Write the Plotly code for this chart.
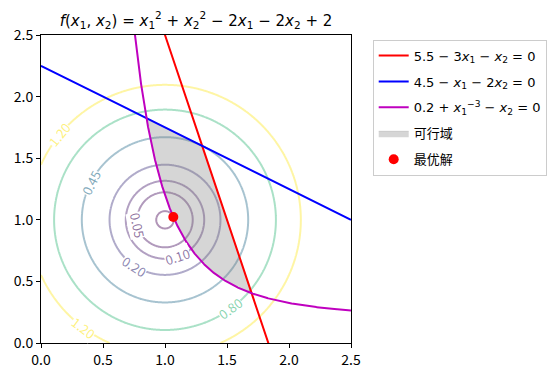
import numpy as np
import plotly.graph_objects as go
from plotly.colors import sample_colorscale

# ---- data ----
levels = [0.005, 0.05, 0.10, 0.20, 0.45, 0.80, 1.20]
label_levels = [0.05, 0.10, 0.20, 0.45, 0.80, 1.20, 1.20]
label_angles = [192, -72, 237, 153, -54, 233, 141]  # degrees around the centre
ticks = [0.0, 0.5, 1.0, 1.5, 2.0, 2.5]
c_red = [5.5, 3.0, 1.0]     # 5.5 - 3 x1 - x2 = 0
c_blue = [4.5, 1.0, 2.0]    # 4.5 - x1 - 2 x2 = 0
c_mag = [0.2, -3.0]         # 0.2 + x1^-3 - x2 = 0
opt_x = [1.067]
opt_y = [1.023]
centre = [1.0, 1.0]

def f(x1, x2):
    return x1**2 + x2**2 - 2*x1 - 2*x2 + 2

def red_y(x):
    return (c_red[0] - c_red[1]*x) / c_red[2]

def blue_y(x):
    return (c_blue[0] - c_blue[1]*x) / c_blue[2]

def mag_y(x):
    return c_mag[0] + x**c_mag[1]

FONT = "Noto Sans CJK SC"
MFONT = "DejaVu Sans, Noto Sans CJK SC"
fig = go.Figure()

# contours
g = np.linspace(0, 2.5, 401)
X, Y = np.meshgrid(g, g)
Z = f(X, Y)
lo, hi = min(levels), max(levels)
cols = sample_colorscale('Viridis', [(L - lo) / (hi - lo) for L in levels])
alpha = 0.42

def rgba(c, a):
    r, gg, b = [int(float(v)) for v in c[c.index('(')+1:c.index(')')].split(',')]
    return f'rgba({r},{gg},{b},{a})'

col_of = {}
for L, c in zip(levels, cols):
    col_of[L] = c
    fig.add_trace(go.Contour(x=g, y=g, z=Z, autocontour=False,
                             contours=dict(start=L, end=L, size=1, coloring='none'),
                             line=dict(color=rgba(c, alpha), width=2),
                             showscale=False, showlegend=False, hoverinfo='skip'))

# feasible region
xf = np.linspace(0.6, 2.5, 4000)
upper = np.minimum(red_y(xf), blue_y(xf))
lower = mag_y(xf)
m = lower <= upper
xs = xf[m]
px = np.concatenate([xs, xs[::-1]])
py = np.concatenate([upper[m], lower[m][::-1]])
fig.add_trace(go.Scatter(x=px, y=py, fill='toself', mode='lines',
                         line=dict(width=0.5, color='rgba(128,128,128,0.5)'),
                         fillcolor='rgba(128,128,128,0.32)', name='可行域',
                         hoverinfo='skip', legendrank=4, legendgroup='d'))

# constraint lines
xl = np.linspace(0, 2.5, 800)
yr = red_y(xl)
fig.add_trace(go.Scatter(x=xl, y=yr, mode='lines', line=dict(color='red', width=2),
                         name='5.5 − 3<i>x</i><sub>1</sub> − <i>x</i><sub>2</sub> = 0',
                         legendrank=1, legendgroup='a'))
fig.add_trace(go.Scatter(x=xl, y=blue_y(xl), mode='lines', line=dict(color='blue', width=2),
                         name='4.5 − <i>x</i><sub>1</sub> − 2<i>x</i><sub>2</sub> = 0',
                         legendrank=2, legendgroup='b'))
xm = np.linspace(0.7, 2.5, 800)
fig.add_trace(go.Scatter(x=xm, y=mag_y(xm), mode='lines', line=dict(color='#bf00bf', width=2),
                         name='0.2 + <i>x</i><sub>1</sub><sup>−3</sup> − <i>x</i><sub>2</sub> = 0',
                         legendrank=3, legendgroup='c'))

fig.add_trace(go.Scatter(x=opt_x, y=opt_y, mode='markers',
                         marker=dict(color='red', size=10), name='最优解',
                         legendrank=5, legendgroup='e'))

# contour labels
for L, ang in zip(label_levels, label_angles):
    r = np.sqrt(L)
    t = np.deg2rad(ang)
    ax_ = centre[0] + r*np.cos(t)
    ay_ = centre[1] + r*np.sin(t)
    ta = -(ang + 90)
    while ta > 90:
        ta -= 180
    while ta < -90:
        ta += 180
    fig.add_annotation(x=ax_, y=ay_, text=f'{L:.2f}', showarrow=False, textangle=ta,
                       font=dict(family=FONT, size=13, color=rgba(col_of[L], 0.6)),
                       bgcolor='white', borderpad=0)

axis = dict(range=[0, 2.5], tickvals=ticks, ticktext=[f'{t:.1f}' for t in ticks],
            ticks='outside', ticklen=4, tickcolor='black', showgrid=False, zeroline=False,
            showline=True, linecolor='black', linewidth=1, mirror=True,
            tickfont=dict(family=FONT, size=14, color='black'))
fig.update_xaxes(**axis)
fig.update_yaxes(**axis)

fig.update_layout(
    width=554, height=375, plot_bgcolor='white', paper_bgcolor='white',
    margin=dict(l=41, r=203, t=35, b=32, autoexpand=False),
    title=dict(text='<i>f</i>(<i>x</i><sub>1</sub>, <i>x</i><sub>2</sub>) = <i>x</i><sub>1</sub><sup>2</sup> + <i>x</i><sub>2</sub><sup>2</sup> − 2<i>x</i><sub>1</sub> − 2<i>x</i><sub>2</sub> + 2',
               x=0.5, xref='paper', xanchor='center', y=0.96, yref='container',
               font=dict(family=MFONT, size=15, color='black')),
    legend=dict(x=1.07, y=0.985, xanchor='left', yanchor='top', bordercolor='#cccccc',
                borderwidth=1, bgcolor='white', font=dict(family=MFONT, size=13, color='black'),
                tracegroupgap=6, itemwidth=30),
    showlegend=True,
)

fig.write_html("out.html")
